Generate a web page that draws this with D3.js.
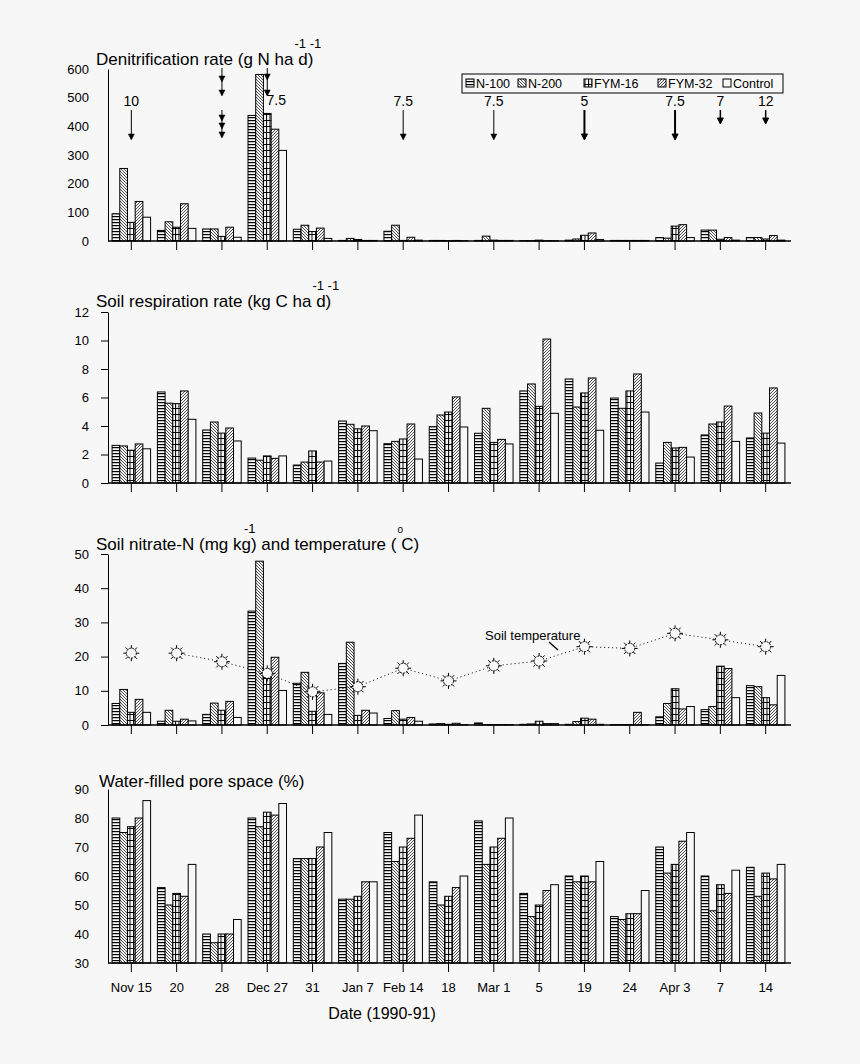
<!DOCTYPE html>
<html><head><meta charset="utf-8">
<script src="https://cdn.jsdelivr.net/npm/d3@7"></script>
<style>
html,body{margin:0;padding:0;background:#f7f7f7;}
svg{display:block;font-family:"Liberation Sans",Arial,sans-serif;}
</style></head><body>
<svg id="chart" width="860" height="1064"></svg>
<script>
// ---------------- DATA ----------------
const categories = ["Nov 15","20","28","Dec 27","31","Jan 7","Feb 14","18","Mar 1","5","19","24","Apr 3","7","14"];
const treatments = ["N-100","N-200","FYM-16","FYM-32","Control"];

// Denitrification rate (g N ha-1 d-1)
const denN100   = [95, 37, 42, 438, 41, 2, 34, 2, 2, 1, 3, 2, 12, 38, 12];
const denN200   = [253, 67, 42, 581, 55, 9, 55, 2, 17, 1, 7, 2, 10, 38, 12];
const denFYM16  = [65, 48, 16, 445, 33, 5, 2, 1, 3, 3, 20, 2, 52, 6, 7];
const denFYM32  = [138, 130, 48, 390, 45, 2, 13, 2, 2, 1, 28, 2, 57, 12, 19];
const denControl= [83, 44, 13, 316, 9, 2, 3, 1, 2, 1, 5, 2, 12, 3, 3];

// Soil respiration rate (kg C ha-1 d-1)
const resN100   = [2.64, 6.39, 3.72, 1.75, 1.26, 4.35, 2.76, 3.95, 3.49, 6.46, 7.3, 5.96, 1.4, 3.37, 3.16];
const resN200   = [2.6, 5.6, 4.28, 1.6, 1.47, 4.12, 2.92, 4.77, 5.24, 6.95, 5.33, 5.24, 2.85, 4.14, 4.91];
const resFYM16  = [2.3, 5.57, 3.5, 1.9, 2.25, 3.8, 3.09, 4.98, 2.85, 5.38, 6.32, 6.46, 2.46, 4.28, 3.5];
const resFYM32  = [2.74, 6.46, 3.86, 1.73, 1.47, 4.0, 4.14, 6.04, 3.06, 10.1, 7.37, 7.65, 2.5, 5.4, 6.67];
const resControl= [2.4, 4.47, 2.95, 1.9, 1.54, 3.67, 1.68, 3.93, 2.74, 4.89, 3.7, 4.98, 1.82, 2.92, 2.8];

// Soil nitrate-N (mg kg-1)
const nitN100   = [6.3, 1.1, 3.1, 33.3, 12.2, 18.0, 1.9, 0.3, 0.6, 0.2, 0.2, 0.1, 2.4, 4.5, 11.5];
const nitN200   = [10.4, 4.3, 6.4, 47.9, 15.4, 24.2, 4.2, 0.4, 0.1, 0.3, 1.0, 0.1, 6.3, 5.4, 11.2];
const nitFYM16  = [3.7, 1.1, 4.3, 14.4, 4.0, 2.8, 1.7, 0.2, 0.1, 1.1, 2.0, 0.1, 10.6, 17.2, 8.0];
const nitFYM32  = [7.5, 1.7, 6.9, 19.8, 9.4, 4.3, 2.2, 0.5, 0.1, 0.4, 1.7, 3.7, 4.7, 16.5, 5.9];
const nitControl= [3.7, 1.2, 2.2, 10.1, 3.1, 3.5, 1.1, 0.1, 0.1, 0.4, 0.2, 0.1, 5.4, 8.0, 14.5];
// Soil temperature (deg C)
const soilTemp  = [21.0, 21.0, 18.5, 15.1, 9.7, 11.2, 16.6, 12.9, 17.3, 18.7, 22.9, 22.4, 26.8, 24.9, 22.9];

// Water-filled pore space (%)
const wfpN100   = [80, 56, 40, 80, 66, 52, 75, 58, 79, 54, 60, 46, 70, 60, 63];
const wfpN200   = [75, 50, 37, 77, 66, 52, 65, 50, 64, 46, 58, 45, 61, 48, 53];
const wfpFYM16  = [77, 54, 40, 82, 66, 53, 70, 53, 70, 50, 60, 47, 64, 57, 61];
const wfpFYM32  = [80, 53, 40, 81, 70, 58, 73, 56, 73, 55, 58, 47, 72, 54, 59];
const wfpControl= [86, 64, 45, 85, 75, 58, 81, 60, 80, 57, 65, 55, 75, 62, 64];

// tick labels
const denTicks = [0, 100, 200, 300, 400, 500, 600];
const resTicks = [0, 2, 4, 6, 8, 10, 12];
const nitTicks = [0, 10, 20, 30, 40, 50];
const wfpTicks = [30, 40, 50, 60, 70, 80, 90];

// application annotations on the denitrification panel
const arrowCats   = ["Nov 15", "28", "Dec 27", "Feb 14", "Mar 1", "19", "Apr 3", "7", "14"];
const arrowLabels = ["10", "", "7.5", "7.5", "7.5", "5", "7.5", "7", "12"];

// ---------------- DRAW ----------------
const BG = "#f7f7f7";
const FONT = '"Liberation Sans", Arial, sans-serif';
const svg = d3.select("#chart");
svg.append("rect").attr("width", 860).attr("height", 1064).attr("fill", BG);
const defs = svg.append("defs");

function pattern(id, w, h, draw) {
  const p = defs.append("pattern").attr("id", id)
    .attr("patternUnits", "userSpaceOnUse").attr("width", w).attr("height", h);
  p.append("rect").attr("width", w).attr("height", h).attr("fill", BG);
  draw(p);
}
pattern("pN100", 6, 3, p => p.append("rect").attr("x", 0).attr("y", 0).attr("width", 6).attr("height", 1.2).attr("fill", "#000"));
pattern("pN200", 3, 3, p => p.append("path").attr("d", "M0,0L3,3M-1,2L1,4M2,-1L4,1").attr("stroke", "#222").attr("stroke-width", 0.8));
pattern("pFYM16", 3.5, 6, p => {
  p.append("rect").attr("x", 0).attr("y", 0).attr("width", 3.5).attr("height", 1).attr("fill", "#000");
  p.append("rect").attr("x", 0).attr("y", 0).attr("width", 1).attr("height", 6).attr("fill", "#000");
});
pattern("pFYM32", 3, 3, p => p.append("path").attr("d", "M0,3L3,0M-1,1L1,-1M2,4L4,2").attr("stroke", "#222").attr("stroke-width", 0.8));
const fills = ["url(#pN100)", "url(#pN200)", "url(#pFYM16)", "url(#pFYM32)", BG];

const x = d3.scaleBand().domain(categories).range([108, 789]).paddingInner(0.15).paddingOuter(0.09);
const xs = d3.scaleBand().domain(treatments).range([0, x.bandwidth()]);

const panels = [
  { series: [denN100, denN200, denFYM16, denFYM32, denControl], domain: [0, 600], range: [241, 69], ticks: denTicks, tickSize: 0 },
  { series: [resN100, resN200, resFYM16, resFYM32, resControl], domain: [0, 12], range: [483, 312], ticks: resTicks, tickSize: 7 },
  { series: [nitN100, nitN200, nitFYM16, nitFYM32, nitControl], domain: [0, 50], range: [725, 554], ticks: nitTicks, tickSize: 7 },
  { series: [wfpN100, wfpN200, wfpFYM16, wfpFYM32, wfpControl], domain: [30, 90], range: [963, 789], ticks: wfpTicks, tickSize: 0 }
];

panels.forEach((pn, pi) => {
  const y = d3.scaleLinear().domain(pn.domain).range(pn.range);
  pn.y = y;
  const g = svg.append("g");
  const rows = [];
  categories.forEach((c, ci) => {
    treatments.forEach((t, ti) => rows.push({ c, t, ti, v: pn.series[ti][ci] }));
  });
  g.selectAll("rect.bar").data(rows).join("rect").attr("class", "bar")
    .attr("x", d => x(d.c) + xs(d.t))
    .attr("width", xs.bandwidth())
    .attr("y", d => y(d.v))
    .attr("height", d => y(pn.domain[0]) - y(d.v))
    .attr("fill", d => fills[d.ti])
    .attr("stroke", "#000").attr("stroke-width", 1);

  const ya = d3.axisLeft(y).tickValues(pn.ticks).tickSize(pn.tickSize).tickSizeOuter(0)
    .tickPadding(19 - pn.tickSize);
  const yg = svg.append("g").attr("transform", "translate(108,0)").call(ya);
  yg.selectAll("text").attr("font-size", 13).attr("font-family", FONT).attr("fill", "#000");
  yg.selectAll("line,path").attr("stroke", "#000");

  const xa = d3.axisBottom(x).tickSize(9).tickSizeOuter(0).tickPadding(11);
  if (pi < 3) xa.tickFormat("");
  const xg = svg.append("g").attr("transform", `translate(0,${y(pn.domain[0])})`).call(xa);
  xg.select("path.domain").attr("d", `M108,0H791`).attr("stroke", "#000").attr("stroke-width", 1.3);
  xg.selectAll("line").attr("stroke", "#000");
  xg.selectAll("text").attr("font-size", 13).attr("font-family", FONT).attr("fill", "#000");
});

// titles with superscripts
function title(tx, ty, str, sups) {
  const t = svg.append("text").attr("x", tx).attr("y", ty).attr("font-size", 17)
    .attr("font-family", FONT).attr("fill", "#000").text(str);
  const node = t.node();
  sups.forEach(s => {
    const idx = str.indexOf(s.at);
    const px = tx + node.getSubStringLength(0, idx) + s.dx;
    svg.append("text").attr("x", px).attr("y", ty + s.dy).attr("font-size", s.size || 13)
      .attr("font-family", FONT).attr("fill", "#000").text(s.text);
  });
}
title(96, 65, "Denitrification rate (g N ha d)", [
  { at: " d)", text: "-1 -1", dx: 1, dy: -17 }
]);
title(96, 307, "Soil respiration rate (kg C ha d)", [
  { at: " d)", text: "-1 -1", dx: 1, dy: -17 }
]);
title(96, 550, "Soil nitrate-N (mg kg) and temperature ( C)", [
  { at: ") and", text: "-1", dx: -7, dy: -17 },
  { at: " C)", text: "o", dx: 1, dy: -17, size: 10 }
]);
title(99, 787, "Water-filled pore space (%)", []);

svg.append("text").attr("x", 382).attr("y", 1019).attr("text-anchor", "middle")
  .attr("font-size", 16).attr("font-family", FONT).attr("fill", "#000").text("Date (1990-91)");

// legend
const legendX = [466, 518, 584, 658, 723];
svg.append("rect").attr("x", 462).attr("y", 74).attr("width", 321).attr("height", 19)
  .attr("fill", "none").attr("stroke", "#000").attr("stroke-width", 1);
treatments.forEach((t, i) => {
  svg.append("rect").attr("x", legendX[i]).attr("y", 79).attr("width", 8).attr("height", 8)
    .attr("fill", fills[i]).attr("stroke", "#000").attr("stroke-width", 1);
  svg.append("text").attr("x", legendX[i] + 10).attr("y", 88).attr("font-size", 12.5)
    .attr("font-family", FONT).attr("fill", "#000").text(t);
});

// arrows on denitrification panel
function head(xc, yh, thick) {
  svg.append("path").attr("d", `M${xc - 3},${yh - 6}L${xc},${yh}L${xc + 3},${yh - 6}Z`).attr("fill", "#000")
    .attr("stroke", "#000").attr("stroke-width", thick ? 1 : 0.5);
}
function shaft(xc, y1, y2, w) {
  svg.append("line").attr("x1", xc).attr("x2", xc).attr("y1", y1).attr("y2", y2)
    .attr("stroke", "#000").attr("stroke-width", w);
}
arrowCats.forEach((c, i) => {
  const xc = x(c) + x.bandwidth() / 2;
  const lab = arrowLabels[i];
  const lt = svg.append("text").attr("y", 106).attr("font-size", 14).attr("font-family", FONT)
    .attr("fill", "#000").attr("text-anchor", "middle").text(lab);
  if (c === "28") {
    shaft(xc, 68, 95, 1); head(xc, 82, false); head(xc, 96, false);
    shaft(xc, 110, 137, 1); head(xc, 121, false); head(xc, 129, false); head(xc, 138, false);
  } else if (c === "Dec 27") {
    lt.attr("x", xc + 9).attr("y", 105);
    shaft(xc, 68, 95, 1); head(xc, 80, false); head(xc, 96, false);
  } else if (c === "7" || c === "14") {
    lt.attr("x", xc).attr("y", 106);
    shaft(xc, 110, 122, 1.5); head(xc, 124, true);
  } else {
    lt.attr("x", xc);
    const thick = (c === "19" || c === "Apr 3");
    shaft(xc, 110, 138, thick ? 2 : 1); head(xc, 140, thick);
  }
});

// soil temperature line + markers
const yN = panels[2].y;
const tempPts = categories.map((c, i) => ({ c, v: soilTemp[i], i }));
const line = d3.line().x(d => x(d.c) + x.bandwidth() / 2).y(d => yN(d.v));
svg.append("path").datum(tempPts.slice(1)).attr("d", line).attr("fill", "none")
  .attr("stroke", "#000").attr("stroke-width", 1).attr("stroke-dasharray", "1,3");
const mk = svg.append("g").selectAll("g").data(tempPts).join("g")
  .attr("transform", d => `translate(${x(d.c) + x.bandwidth() / 2},${yN(d.v)})`);
mk.append("circle").attr("r", 5).attr("fill", BG).attr("stroke", "#000").attr("stroke-width", 1)
  .attr("stroke-dasharray", "2,1");
d3.range(8).forEach(k => {
  const a = k * Math.PI / 4;
  mk.append("line").attr("x1", 5 * Math.cos(a)).attr("y1", 5 * Math.sin(a))
    .attr("x2", 8 * Math.cos(a)).attr("y2", 8 * Math.sin(a)).attr("stroke", "#000").attr("stroke-width", 1);
});
svg.append("text").attr("x", 485).attr("y", 640).attr("font-size", 13).attr("font-family", FONT)
  .attr("fill", "#000").text("Soil temperature");
svg.append("line").attr("x1", 549).attr("y1", 642).attr("x2", 558).attr("y2", 650)
  .attr("stroke", "#000").attr("stroke-width", 1.3);
</script>
</body></html>
